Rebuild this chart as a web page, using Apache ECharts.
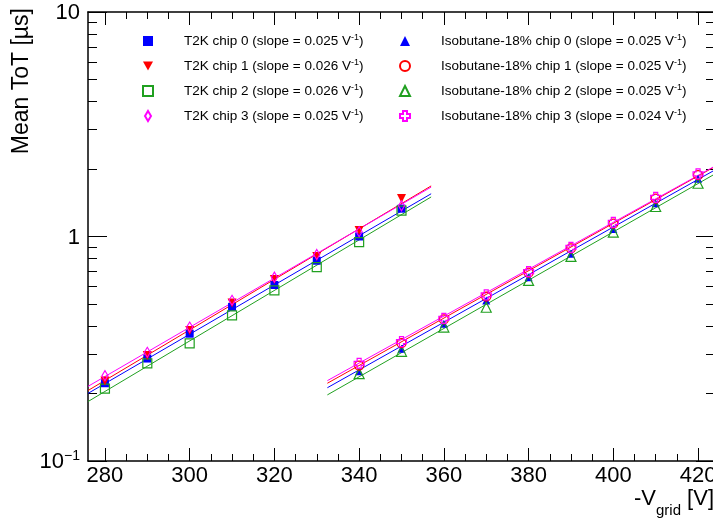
<!DOCTYPE html>
<html><head><meta charset="utf-8">
<script src="https://cdn.jsdelivr.net/npm/echarts@6/dist/echarts.min.js"></script>
<style>html,body{margin:0;padding:0;background:#fff}#c{width:713px;height:518px}</style>
</head><body><div id="c"></div>
<script>
// ---- data ----
const xT2K = [280, 290, 300, 310, 320, 330, 340, 350];
const t2kChip0 = [0.222, 0.286, 0.369, 0.486, 0.608, 0.78, 1.0, 1.33];
const t2kChip1 = [0.227, 0.295, 0.381, 0.505, 0.643, 0.815, 1.064, 1.476];
const t2kChip2 = [0.21, 0.272, 0.334, 0.445, 0.575, 0.73, 0.943, 1.305];
const t2kChip3 = [0.24, 0.305, 0.395, 0.52, 0.659, 0.832, 1.05, 1.37];

const xIso = [340, 350, 360, 370, 380, 390, 400, 410, 420];
const isoChip0 = [0.251, 0.316, 0.409, 0.519, 0.659, 0.837, 1.08, 1.407, 1.806];
const isoChip1 = [0.266, 0.335, 0.427, 0.54, 0.69, 0.885, 1.14, 1.475, 1.875];
const isoChip2 = [0.245, 0.308, 0.395, 0.484, 0.637, 0.815, 1.045, 1.36, 1.727];
const isoChip3 = [0.272, 0.34, 0.432, 0.549, 0.698, 0.895, 1.155, 1.495, 1.9];

// fit lines (end points)
const fitT2KX = [276, 357];
const fitT2K0 = [0.200, 1.55];
const fitT2K1 = [0.206, 1.68];
const fitT2K2 = [0.184, 1.50];
const fitT2K3 = [0.215, 1.66];
const fitIsoX = [332.5, 424];
const fitIso0 = [0.212, 1.98];
const fitIso1 = [0.222, 2.05];
const fitIso2 = [0.197, 1.90];
const fitIso3 = [0.228, 2.06];

const seriesNames = [
  'T2K chip 0 (slope = 0.025 V⁻¹)',
  'T2K chip 1 (slope = 0.026 V⁻¹)',
  'T2K chip 2 (slope = 0.026 V⁻¹)',
  'T2K chip 3 (slope = 0.025 V⁻¹)',
  'Isobutane-18% chip 0 (slope = 0.025 V⁻¹)',
  'Isobutane-18% chip 1 (slope = 0.025 V⁻¹)',
  'Isobutane-18% chip 2 (slope = 0.025 V⁻¹)',
  'Isobutane-18% chip 3 (slope = 0.024 V⁻¹)'
];

const xMajorTicks = [280, 300, 320, 340, 360, 380, 400, 420];
const xMinorTicks = [280, 285, 290, 295, 300, 305, 310, 315, 320, 325, 330, 335, 340, 345, 350, 355,
  360, 365, 370, 375, 380, 385, 390, 395, 400, 405, 410, 415, 420];
const yMajorTicks = [0.1, 1, 10];
const yMinorTicks = [0.2, 0.3, 0.4, 0.5, 0.6, 0.7, 0.8, 0.9, 2, 3, 4, 5, 6, 7, 8, 9];
const yTickLabels = ['{b|10}{s|−1}', '{b|1}', '{b|10}'];

const xTitle = '{a|-V}{s|grid}{a| [V]}';
const yTitle = 'Mean ToT [µs]';

// ---- styles ----
const FONT = '"Liberation Sans", Arial, Helvetica, sans-serif';
const BLUE = '#0000ff', RED = '#ff0000', GREEN = '#20a020', MAG = '#ff00ff';
const NONE = 'rgba(0,0,0,0)';
const CROSS = 'path://M3,0 L7,0 L7,3 L10,3 L10,7 L7,7 L7,10 L3,10 L3,7 L0,7 L0,3 L3,3 Z';
const DOWN_TRI = 'path://M0,0 L10,0 L5,9 Z';
const NARROW_DIAMOND = 'path://M3,0 L6,5 L3,10 L0,5 Z';

function pairs(xs, ys) { return xs.map((x, i) => [x, ys[i]]); }
function fitLine(name, xs, ys, color) {
  return { type: 'line', name: name, data: pairs(xs, ys), symbol: 'none', silent: true,
    lineStyle: { color: color, width: 1 }, itemStyle: { color: color }, z: 2, animation: false };
}
function pts(name, xs, ys, symbol, size, color, filled, rotate) {
  return { type: 'scatter', name: name, data: pairs(xs, ys), symbol: symbol, symbolSize: size,
    symbolRotate: rotate || 0, z: 3,
    itemStyle: filled ? { color: color, opacity: 1 }
                      : { color: NONE, borderColor: color, borderWidth: 1.2, opacity: 1 } };
}

const xBase = { type: 'value', min: 276, max: 424, splitLine: { show: false } };
const yBase = { type: 'log', logBase: 10, min: 0.1, max: 10, splitLine: { show: false } };
const axisLineBlack = { show: true, onZero: false, lineStyle: { color: '#000', width: 1.5 } };

const legendText = {
  fontSize: 13.5, fontFamily: FONT, color: '#000', padding: [0, 0, 0, 26],
  rich: { s: { fontSize: 9, fontFamily: FONT, color: '#000', verticalAlign: 'top', lineHeight: 16 } }
};
function legendFmt(n) { return n.replace('V⁻¹', 'V{s|-1}'); }
const legendCol1 = seriesNames.slice(0, 4).map((n, i) =>
  i === 1 ? { name: n, icon: DOWN_TRI } : (i === 3 ? { name: n, icon: NARROW_DIAMOND } : { name: n }));
const legendCol2 = seriesNames.slice(4, 8).map(n => ({ name: n }));

const option = {
  animation: false,
  backgroundColor: '#fff',
  grid: { left: 88, top: 12, width: 627, height: 449, outerBoundsMode: 'none', containLabel: false },
  xAxis: [
    Object.assign({}, xBase, { position: 'bottom', axisLine: axisLineBlack,
      axisTick: { inside: true, length: 13, customValues: xMajorTicks, lineStyle: { color: '#000' } },
      axisLabel: { customValues: xMajorTicks, fontSize: 22, fontFamily: FONT, color: '#000', margin: 4 } }),
    Object.assign({}, xBase, { position: 'bottom', axisLine: { show: false },
      axisTick: { inside: true, length: 7, customValues: xMinorTicks, lineStyle: { color: '#000' } },
      axisLabel: { show: false } }),
    Object.assign({}, xBase, { position: 'top', axisLine: axisLineBlack,
      axisTick: { inside: true, length: 13, customValues: xMajorTicks, lineStyle: { color: '#000' } },
      axisLabel: { show: false } }),
    Object.assign({}, xBase, { position: 'top', axisLine: { show: false },
      axisTick: { inside: true, length: 7, customValues: xMinorTicks, lineStyle: { color: '#000' } },
      axisLabel: { show: false } })
  ],
  yAxis: [
    Object.assign({}, yBase, { position: 'left', axisLine: axisLineBlack,
      axisTick: { inside: true, length: 19, customValues: yMajorTicks, lineStyle: { color: '#000' } },
      axisLabel: { customValues: yMajorTicks, margin: 8, color: '#000',
        formatter: function (v) { return yTickLabels[yMajorTicks.findIndex(t => Math.abs(t - v) < 1e-6 * t)]; },
        rich: { b: { fontSize: 22, fontFamily: FONT, color: '#000', verticalAlign: 'bottom', lineHeight: 24 },
                s: { fontSize: 14, fontFamily: FONT, color: '#000', verticalAlign: 'top', lineHeight: 24 } } } }),
    Object.assign({}, yBase, { position: 'left', axisLine: { show: false },
      axisTick: { inside: true, length: 9, customValues: yMinorTicks, lineStyle: { color: '#000' } },
      axisLabel: { show: false } }),
    Object.assign({}, yBase, { position: 'right', axisLine: axisLineBlack,
      axisTick: { inside: true, length: 19, customValues: yMajorTicks, lineStyle: { color: '#000' } },
      axisLabel: { show: false } }),
    Object.assign({}, yBase, { position: 'right', axisLine: { show: false },
      axisTick: { inside: true, length: 9, customValues: yMinorTicks, lineStyle: { color: '#000' } },
      axisLabel: { show: false } })
  ],
  legend: [
    { data: legendCol1, left: 137, top: 28, orient: 'vertical', itemWidth: 10, itemHeight: 10,
      itemGap: 10, selectedMode: false, textStyle: legendText, formatter: legendFmt },
    { data: legendCol2, left: 394, top: 28, orient: 'vertical', itemWidth: 10, itemHeight: 10,
      itemGap: 10, selectedMode: false, textStyle: legendText, formatter: legendFmt }
  ],
  graphic: [
    { type: 'text', x: 22, y: 8, rotation: Math.PI / 2,
      style: { text: yTitle, font: '23px ' + FONT, fill: '#000', align: 'right', verticalAlign: 'middle' } },
    { type: 'text', x: 634, y: 488,
      style: { text: xTitle, fill: '#000', align: 'left', verticalAlign: 'top',
        rich: { a: { fontSize: 22, fontFamily: FONT, fill: '#000', verticalAlign: 'top', lineHeight: 30 },
                s: { fontSize: 15, fontFamily: FONT, fill: '#000', verticalAlign: 'bottom', lineHeight: 30 } } } }
  ],
  series: [
    fitLine('fitT2K2', fitT2KX, fitT2K2, GREEN),
    fitLine('fitT2K0', fitT2KX, fitT2K0, BLUE),
    fitLine('fitT2K1', fitT2KX, fitT2K1, RED),
    fitLine('fitT2K3', fitT2KX, fitT2K3, MAG),
    fitLine('fitIso2', fitIsoX, fitIso2, GREEN),
    fitLine('fitIso0', fitIsoX, fitIso0, BLUE),
    fitLine('fitIso1', fitIsoX, fitIso1, RED),
    fitLine('fitIso3', fitIsoX, fitIso3, MAG),
    pts(seriesNames[0], xT2K, t2kChip0, 'rect', 8, BLUE, true),
    pts(seriesNames[2], xT2K, t2kChip2, 'rect', 9, GREEN, false),
    pts(seriesNames[1], xT2K, t2kChip1, 'triangle', 9, RED, true, 180),
    pts(seriesNames[3], xT2K, t2kChip3, 'diamond', [6, 10], MAG, false),
    pts(seriesNames[4], xIso, isoChip0, 'triangle', 8, BLUE, true),
    pts(seriesNames[6], xIso, isoChip2, 'triangle', 10, GREEN, false),
    pts(seriesNames[5], xIso, isoChip1, 'circle', 9, RED, false),
    pts(seriesNames[7], xIso, isoChip3, CROSS, 10, MAG, false)
  ]
};

const chart = echarts.init(document.getElementById('c'), null, { renderer: 'canvas' });
chart.setOption(option);
</script>
</body></html>
